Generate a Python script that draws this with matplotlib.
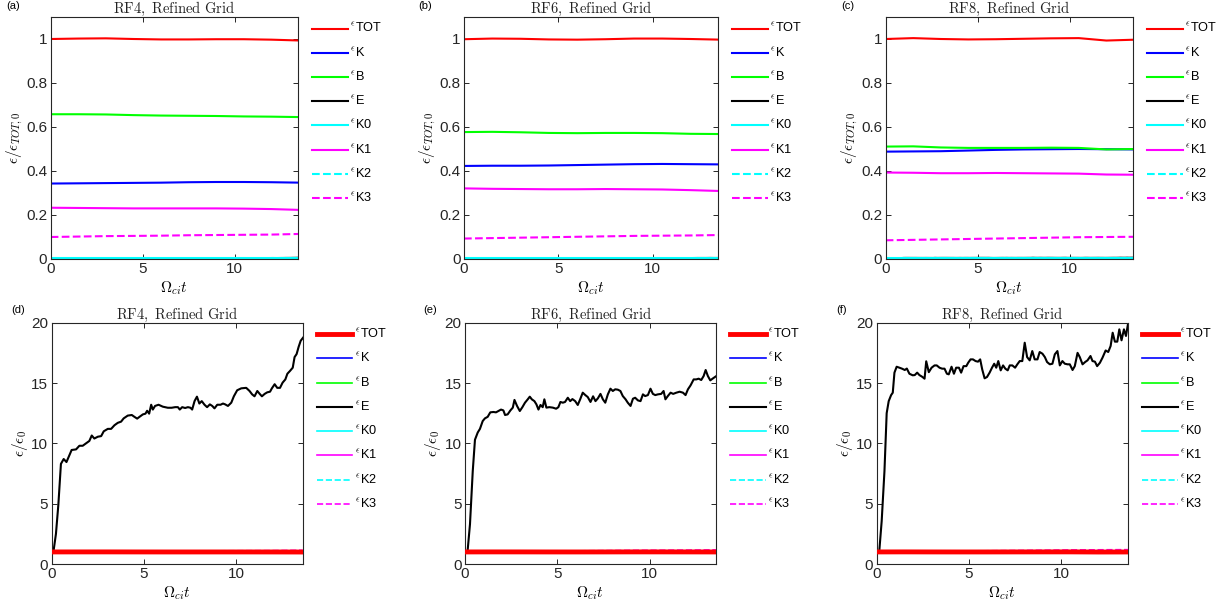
import matplotlib.pyplot as plt
from matplotlib.font_manager import FontProperties
from matplotlib.ticker import FuncFormatter

plt.rcParams['font.family'] = ['Liberation Sans', 'DejaVu Sans']
plt.rcParams['mathtext.fontset'] = 'cm'

W, H = 1216, 609
AX_COLOR = (0.15, 0.15, 0.15)

# sample times for the smooth energy curves
t_smooth = [0, 1.5, 3, 4.5, 6, 7.5, 9, 10.5, 12, 13.6]

# energies normalised to eps_TOT,0 (upper row)
rf4_tot = [1.000, 1.002, 1.003, 1.000, 0.998, 0.998, 0.999, 0.999, 0.997, 0.993]
rf4_k = [0.343, 0.344, 0.345, 0.346, 0.347, 0.349, 0.350, 0.350, 0.349, 0.347]
rf4_b = [0.658, 0.658, 0.657, 0.654, 0.652, 0.651, 0.650, 0.648, 0.647, 0.645]
rf4_k0 = [0.003, 0.003, 0.003, 0.003, 0.003, 0.003, 0.003, 0.003, 0.003, 0.003]
rf4_k1 = [0.233, 0.232, 0.231, 0.230, 0.230, 0.230, 0.230, 0.229, 0.227, 0.223]
rf4_k2 = [0.002, 0.002, 0.002, 0.002, 0.002, 0.002, 0.002, 0.002, 0.002, 0.002]
rf4_k3 = [0.100, 0.102, 0.104, 0.105, 0.106, 0.108, 0.109, 0.110, 0.111, 0.114]

rf6_tot = [0.999, 1.002, 1.001, 0.998, 0.997, 0.999, 1.002, 1.002, 1.000, 0.997]
rf6_k = [0.423, 0.424, 0.424, 0.425, 0.427, 0.429, 0.431, 0.432, 0.431, 0.430]
rf6_b = [0.577, 0.578, 0.576, 0.573, 0.572, 0.573, 0.573, 0.572, 0.569, 0.568]
rf6_k0 = [0.003, 0.003, 0.003, 0.003, 0.003, 0.003, 0.003, 0.003, 0.003, 0.003]
rf6_k1 = [0.321, 0.319, 0.318, 0.317, 0.317, 0.318, 0.317, 0.316, 0.313, 0.309]
rf6_k2 = [0.002, 0.002, 0.002, 0.002, 0.002, 0.002, 0.002, 0.002, 0.002, 0.002]
rf6_k3 = [0.093, 0.095, 0.097, 0.099, 0.101, 0.103, 0.105, 0.106, 0.107, 0.109]

rf8_tot = [1.000, 1.004, 1.000, 0.998, 0.999, 1.001, 1.003, 1.004, 0.993, 0.997]
rf8_k = [0.488, 0.489, 0.490, 0.493, 0.496, 0.498, 0.499, 0.500, 0.499, 0.498]
rf8_b = [0.511, 0.512, 0.507, 0.505, 0.505, 0.505, 0.506, 0.505, 0.498, 0.500]
rf8_k0 = [0.003, 0.003, 0.003, 0.003, 0.003, 0.003, 0.003, 0.003, 0.003, 0.003]
rf8_k1 = [0.393, 0.392, 0.390, 0.390, 0.391, 0.390, 0.389, 0.388, 0.384, 0.383]
rf8_k2 = [0.002, 0.002, 0.002, 0.002, 0.002, 0.002, 0.002, 0.002, 0.002, 0.002]
rf8_k3 = [0.085, 0.087, 0.089, 0.091, 0.093, 0.095, 0.097, 0.099, 0.100, 0.101]

# initial electric energy as a fraction of eps_TOT,0 (tiny)
rf4_e0 = 0.0003
rf6_e0 = 0.0003
rf8_e0 = 0.0003

rf4_e_pts = [
    (0, 1.0), (0.1, 1.08), (0.23, 2.5), (0.36, 4.9), (0.5, 8.3), (0.65, 8.7),
    (0.8, 8.45), (0.94, 8.95), (1.08, 9.45), (1.32, 9.5), (1.5, 9.8), (1.68, 9.8),
    (1.86, 10.0), (2.04, 10.2), (2.17, 10.65), (2.31, 10.4), (2.5, 10.55),
    (2.68, 10.6), (2.82, 11.0), (3.04, 11.2), (3.22, 11.2), (3.4, 11.5),
    (3.58, 11.7), (3.76, 11.8), (3.9, 12.07), (4.12, 12.3), (4.34, 12.35),
    (4.48, 12.2), (4.63, 12.05), (4.76, 12.2), (4.94, 12.4), (5.08, 12.46),
    (5.17, 12.7), (5.28, 12.46), (5.39, 13.2), (5.48, 12.8), (5.6, 13.1),
    (5.79, 13.2), (6.02, 13.04), (6.29, 12.95), (6.5, 12.95), (6.69, 13.0),
    (6.84, 13.0), (6.94, 12.8), (7.07, 13.0), (7.23, 12.93), (7.38, 13.0),
    (7.52, 12.95), (7.61, 12.8), (7.74, 13.5), (7.87, 13.87), (8.0, 13.3),
    (8.13, 13.5), (8.28, 13.2), (8.42, 13.0), (8.57, 13.23), (8.7, 13.1),
    (8.82, 12.9), (8.97, 13.2), (9.15, 13.2), (9.28, 13.3), (9.4, 13.23),
    (9.55, 13.1), (9.73, 13.37), (9.87, 13.9), (10.05, 14.4), (10.27, 14.56),
    (10.54, 14.6), (10.72, 14.34), (10.86, 14.06), (10.99, 13.9), (11.14, 14.34),
    (11.27, 14.1), (11.39, 13.9), (11.54, 14.1), (11.68, 14.23), (11.83, 14.28),
    (11.93, 14.56), (12.08, 14.9), (12.22, 14.6), (12.37, 14.6), (12.51, 15.03),
    (12.66, 15.3), (12.77, 15.77), (12.91, 16.0), (13.06, 16.27), (13.16, 17.15),
    (13.27, 17.4), (13.38, 18.0), (13.49, 18.5), (13.62, 18.76),
]
rf6_e_pts = [
    (0, 1.0), (0.14, 1.08), (0.27, 3.3), (0.42, 7.7), (0.54, 10.3), (0.69, 10.9),
    (0.81, 11.2), (0.96, 11.85), (1.08, 12.07), (1.23, 12.2), (1.37, 12.57),
    (1.54, 12.6), (1.68, 12.57), (1.81, 12.68), (1.95, 12.8), (2.08, 12.73),
    (2.17, 12.35), (2.31, 12.4), (2.46, 12.73), (2.59, 12.96), (2.68, 13.6),
    (2.82, 13.1), (2.97, 12.68), (3.11, 13.0), (3.25, 13.37), (3.4, 13.65),
    (3.51, 13.87), (3.62, 13.65), (3.76, 13.5), (3.87, 13.23), (3.98, 12.8),
    (4.09, 13.18), (4.21, 13.0), (4.3, 13.65), (4.41, 12.96), (4.57, 13.0),
    (4.76, 12.96), (4.94, 12.87), (5.06, 13.0), (5.17, 13.43), (5.3, 13.37),
    (5.42, 13.43), (5.57, 13.78), (5.7, 13.5), (5.82, 13.67), (5.97, 13.5),
    (6.11, 13.18), (6.24, 13.65), (6.38, 14.2), (6.52, 14.0), (6.65, 13.84),
    (6.8, 13.43), (6.94, 13.9), (7.07, 13.5), (7.2, 13.73), (7.34, 14.1),
    (7.47, 13.65), (7.6, 13.37), (7.74, 14.06), (7.88, 14.53), (8.01, 14.34),
    (8.14, 14.48), (8.28, 14.45), (8.42, 14.34), (8.55, 13.92), (8.7, 13.65),
    (8.82, 13.37), (8.97, 13.1), (9.1, 13.7), (9.22, 13.78), (9.37, 13.56),
    (9.51, 13.5), (9.64, 14.06), (9.76, 13.92), (9.91, 14.0), (10.05, 14.53),
    (10.18, 14.1), (10.31, 14.0), (10.45, 14.06), (10.63, 14.1), (10.76, 14.34),
    (10.86, 13.65), (10.99, 13.92), (11.14, 14.2), (11.28, 14.1), (11.45, 14.2),
    (11.63, 14.28), (11.81, 14.2), (11.95, 14.0), (12.08, 14.48), (12.22, 14.8),
    (12.39, 15.3), (12.53, 15.3), (12.66, 15.36), (12.8, 15.25), (12.93, 15.58),
    (13.04, 16.08), (13.16, 15.58), (13.29, 15.22), (13.44, 15.39), (13.62, 15.58),
]
rf8_e_pts = [
    (0, 1.0), (0.14, 1.08), (0.27, 3.56), (0.42, 7.7), (0.54, 12.5), (0.65, 13.5),
    (0.78, 14.0), (0.87, 14.2), (0.96, 15.86), (1.08, 16.35), (1.23, 16.27),
    (1.37, 16.19), (1.52, 16.08), (1.63, 16.2), (1.77, 15.77), (1.95, 15.64),
    (2.06, 15.66), (2.19, 15.86), (2.31, 15.66), (2.46, 15.52), (2.59, 15.36),
    (2.68, 16.8), (2.82, 15.9), (2.97, 16.27), (3.13, 16.46), (3.25, 16.46),
    (3.4, 16.27), (3.54, 16.19), (3.67, 16.19), (3.8, 15.77), (3.9, 15.72),
    (4.05, 16.35), (4.18, 15.77), (4.3, 16.27), (4.45, 16.27), (4.57, 15.86),
    (4.7, 16.4), (4.85, 16.4), (4.95, 16.68), (5.08, 16.96), (5.21, 16.96),
    (5.35, 16.82), (5.48, 16.77), (5.6, 16.96), (5.71, 16.13), (5.84, 15.39),
    (5.97, 15.5), (6.11, 15.86), (6.24, 16.27), (6.36, 16.6), (6.47, 16.27),
    (6.58, 16.82), (6.71, 16.05), (6.84, 16.46), (6.96, 16.19), (7.09, 16.05),
    (7.2, 16.46), (7.34, 16.46), (7.49, 16.27), (7.61, 16.55), (7.74, 16.82),
    (7.88, 16.82), (8.01, 18.34), (8.14, 17.15), (8.28, 16.88), (8.42, 17.65),
    (8.55, 16.96), (8.7, 16.96), (8.82, 17.57), (8.97, 17.43), (9.1, 17.15),
    (9.22, 16.74), (9.37, 16.55), (9.51, 16.6), (9.64, 17.38), (9.78, 17.65),
    (9.91, 16.46), (10.05, 16.82), (10.18, 16.6), (10.33, 16.55), (10.45, 16.55),
    (10.6, 16.08), (10.72, 16.4), (10.87, 17.5), (10.99, 17.15), (11.14, 16.55),
    (11.28, 16.74), (11.41, 16.88), (11.57, 17.24), (11.68, 16.82), (11.81, 16.77),
    (11.93, 16.4), (12.08, 16.68), (12.22, 17.1), (12.39, 17.7), (12.53, 17.57),
    (12.66, 18.07), (12.77, 19.17), (12.89, 18.43), (13.02, 18.43), (13.13, 19.45),
    (13.25, 18.54), (13.38, 19.45), (13.49, 18.9), (13.62, 20.08),
]

runs = [
    ('RF4', rf4_tot, rf4_k, rf4_b, rf4_e0, rf4_e_pts, rf4_k0, rf4_k1, rf4_k2, rf4_k3),
    ('RF6', rf6_tot, rf6_k, rf6_b, rf6_e0, rf6_e_pts, rf6_k0, rf6_k1, rf6_k2, rf6_k3),
    ('RF8', rf8_tot, rf8_k, rf8_b, rf8_e0, rf8_e_pts, rf8_k0, rf8_k1, rf8_k2, rf8_k3),
]

names = ['TOT', 'K', 'B', 'E', 'K0', 'K1', 'K2', 'K3']
colors = ['#ff0000', '#0000ff', '#00ff00', '#000000', '#00ffff', '#ff00ff', '#00ffff', '#ff00ff']
styles = ['-', '-', '-', '-', '-', '-', '--', '--']

# pixel boxes (left, top, right, bottom) of the six panels
top_boxes = [(50.7, 17, 298, 259), (464, 17, 718, 259), (885.7, 17, 1133, 259)]
bot_boxes = [(51.7, 322.7, 302.7, 564), (465, 322.7, 716, 564), (876.7, 322.7, 1128, 564)]
top_tags = [('(a)', 13, 6), ('(b)', 425, 6), ('(c)', 848, 6)]
bot_tags = [('(d)', 18, 310), ('(e)', 430, 310), ('(f)', 842, 310)]


def px_rect(box):
    l, t, r, b = box
    return [l / W, 1 - b / H, (r - l) / W, (b - t) / H]


def style_axes(ax):
    for s in ax.spines.values():
        s.set_color(AX_COLOR)
        s.set_linewidth(0.8)
    ax.tick_params(direction='in', length=3.5, width=0.7, colors=AX_COLOR,
                   labelsize=11, top=True, right=True, pad=2.5)
    ax.set_xticks([0, 5, 10])
    ax.xaxis.set_major_formatter(FuncFormatter(lambda v, p: f'{v:g}'))
    ax.yaxis.set_major_formatter(FuncFormatter(lambda v, p: f'{v:g}'))


def add_legend(ax, box):
    l, t, r, b = box
    ax.legend(labels, loc='upper left', bbox_to_anchor=((r + 14) / W, 1 - (t + 5) / H),
              bbox_transform=fig.transFigure, frameon=False, prop=leg_font,
              handlelength=2.8, handletextpad=0.2, labelspacing=0.8,
              borderaxespad=0, borderpad=0)


leg_font = FontProperties(family='Liberation Sans', size=9.2, math_fontfamily='cm')
labels = [r'$^{\epsilon}$' + n for n in names]

fig = plt.figure(figsize=(W / 100, H / 100), dpi=100)

for i, (run, tot, k, b, e0, e_pts, k0, k1, k2, k3) in enumerate(runs):
    e_t = [p[0] for p in e_pts]
    e_norm = [p[1] for p in e_pts]
    e_top = [e0 * v for v in e_norm]
    smooth = {'TOT': tot, 'K': k, 'B': b, 'K0': k0, 'K1': k1, 'K2': k2, 'K3': k3}
    title = r'$\mathrm{' + run + r',\ Refined\ Grid}$'

    # upper row: normalised to total initial energy
    ax = fig.add_axes(px_rect(top_boxes[i]))
    for n, c, ls in zip(names, colors, styles):
        if n == 'E':
            ax.plot(e_t, e_top, color=c, ls=ls, lw=1.5)
        else:
            ax.plot(t_smooth, smooth[n], color=c, ls=ls, lw=1.5)
    ax.set_xlim(0, 13.45)
    ax.set_ylim(0, 1.1)
    ax.set_yticks([0, 0.2, 0.4, 0.6, 0.8, 1.0])
    style_axes(ax)
    ax.set_title(title, fontsize=10.5, pad=3, color='#222222')
    ax.set_xlabel(r'$\Omega_{ci}t$', fontsize=11, labelpad=2)
    ax.set_ylabel(r'$\epsilon/\epsilon_{TOT,0}$', fontsize=11, labelpad=1)
    add_legend(ax, top_boxes[i])

    # lower row: each energy normalised to its own initial value
    ax = fig.add_axes(px_rect(bot_boxes[i]))
    for n, c, ls in zip(names, colors, styles):
        if n == 'E':
            ax.plot(e_t, e_norm, color=c, ls=ls, lw=1.5, zorder=2)
        elif n == 'TOT':
            ax.plot(t_smooth, [v / tot[0] for v in tot], color=c, ls=ls, lw=3.5, zorder=4)
        else:
            s = smooth[n]
            ax.plot(t_smooth, [v / s[0] for v in s], color=c, ls=ls, lw=1.2, zorder=3)
    ax.set_xlim(0, 13.6)
    ax.set_ylim(0, 20)
    ax.set_yticks([0, 5, 10, 15, 20])
    style_axes(ax)
    ax.set_title(title, fontsize=10.5, pad=3, color='#222222')
    ax.set_xlabel(r'$\Omega_{ci}t$', fontsize=11, labelpad=2)
    ax.set_ylabel(r'$\epsilon/\epsilon_0$', fontsize=11, labelpad=1)
    add_legend(ax, bot_boxes[i])

for txt, x, y in top_tags + bot_tags:
    fig.text(x / W, 1 - y / H, txt, fontsize=8, ha='center', va='center')

fig.savefig('out.png', dpi=100)
